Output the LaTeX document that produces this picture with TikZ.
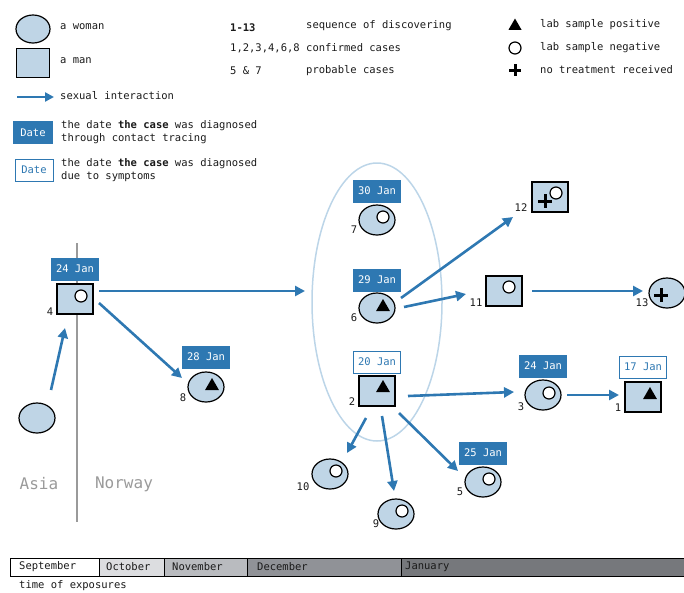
\documentclass[tikz,border=0pt]{standalone}
\usepackage{fontspec}
\setmainfont{DejaVu Sans Mono}
\usetikzlibrary{shapes.geometric, arrows.meta, calc}

\definecolor{caseblue}{HTML}{2E78B2}
\definecolor{bodyfill}{HTML}{BFD5E6}
\definecolor{ringblue}{HTML}{BCD5E8}
\definecolor{borderline}{HTML}{9A9A9A}
\definecolor{monthoct}{HTML}{DCDDE0}
\definecolor{monthnov}{HTML}{B9BBBF}
\definecolor{monthdec}{HTML}{909297}
\definecolor{monthjan}{HTML}{76787C}
\definecolor{inktext}{HTML}{1A1A1A}

\tikzset{
  woman/.style={ellipse, draw=black, line width=1.2pt, fill=bodyfill,
    minimum width=36pt, minimum height=30pt, inner sep=0pt},
  man/.style={rectangle, draw=black, line width=1.2pt, fill=bodyfill,
    minimum width=36pt, minimum height=30pt, inner sep=0pt},
  datefill/.style={rectangle, fill=caseblue, text=white,
    minimum width=48pt, minimum height=23pt, inner sep=0pt},
  dateline/.style={rectangle, draw=caseblue, line width=1pt, fill=white, text=caseblue,
    minimum width=47pt, minimum height=22pt, inner sep=0pt},
  rel/.style={draw=caseblue, line width=2.6pt, -{Triangle[length=10pt,width=10pt]}},
  posmark/.style={regular polygon, regular polygon sides=3, fill=black,
    minimum size=16pt, inner sep=0pt},
  negmark/.style={circle, draw=black, line width=1.2pt, fill=white,
    minimum size=12pt, inner sep=0pt},
  plusmark/.style={draw=black, line width=3pt},
  numlab/.style={inner sep=0pt, text=inktext},
  legtext/.style={anchor=west, inner sep=0pt, text=inktext, align=left},
  region/.style={inner sep=0pt, text=borderline, font=\fontsize{16}{19}\selectfont},
  month/.style={anchor=west, inner sep=0pt, text=inktext},
}

\begin{document}
\begin{tikzpicture}[x=1pt, y=-1pt, font=\fontsize{10.5}{13}\selectfont]
\useasboundingbox (0,0) rectangle (684,592);

% ---------- legend: symbols ----------
\node[woman, minimum width=34pt, minimum height=28pt] (lw) at (33,29) {};
\node[legtext] (lwt) at (60,27) {a woman};
\node[man, minimum width=33pt, minimum height=29pt] (lm) at (33,63) {};
\node[legtext] (lmt) at (60,61) {a man};
\coordinate (la0) at (17,97);
\coordinate (la1) at (54,97);
\draw[rel, -{Triangle[length=9pt,width=9pt]}] (la0) -- (la1);
\node[legtext] (lat) at (60,96) {sexual interaction};
\node[datefill, minimum width=40pt] (ld1) at (33,132.5) {Date};
\node[legtext] (ld1t) at (61,132.5) {the date \textbf{the case} was diagnosed\\through contact tracing};
\node[dateline, minimum width=38pt] (ld2) at (34,170) {Date};
\node[legtext] (ld2t) at (61,170) {the date \textbf{the case} was diagnosed\\due to symptoms};

% ---------- legend: numbering ----------
\node[legtext] (k1) at (230,28) {\textbf{1-13}};
\node[legtext] (k1t) at (306,26) {sequence of discovering};
\node[legtext] (k2) at (230,48) {1,2,3,4,6,8};
\node[legtext] (k2t) at (306,48) {confirmed cases};
\node[legtext] (k3) at (230,71) {5 \& 7};
\node[legtext] (k3t) at (306,71) {probable cases};

% ---------- legend: lab results ----------
\node[posmark, minimum size=15pt] (kp) at (515,26) {};
\node[legtext] (kpt) at (540,25) {lab sample positive};
\node[negmark] (kn) at (515,48) {};
\node[legtext] (knt) at (540,48) {lab sample negative};
\draw[plusmark] (515,70) +(-6,0) -- +(6,0) +(0,-6) -- +(0,6);
\node[legtext] (kxt) at (540,70) {no treatment received};

% ---------- Asia / Norway border ----------
\draw[borderline, line width=2.5pt] (77,243) -- (77,522);
\node[region] (asia) at (39,484) {Asia};
\node[region] (norway) at (124,484) {Norway};

% ---------- household cluster ----------
\node[ellipse, draw=ringblue, line width=1.5pt, minimum width=130pt,
  minimum height=278pt, inner sep=0pt] (grp) at (377,302) {};

% ---------- cases ----------
\node[woman] (wa) at (37,418) {};

\node[man] (m4) at (75,299) {};
\node[negmark] at ($(m4)+(6,-3)$) {};
\node[numlab] at (50,312) {4};
\node[datefill] at (75,269) {24 Jan};

\node[woman] (w8) at (206,387) {};
\node[posmark] at ($(w8)+(6,-1)$) {};
\node[numlab] at (183,398) {8};
\node[datefill] at (206,357) {28 Jan};

\node[woman] (w7) at (377,220) {};
\node[negmark] at ($(w7)+(6,-3)$) {};
\node[numlab] at (354,230) {7};
\node[datefill] at (377,191) {30 Jan};

\node[woman] (w6) at (377,308) {};
\node[posmark] at ($(w6)+(6,-1)$) {};
\node[numlab] at (354,318) {6};
\node[datefill] at (377,280) {29 Jan};

\node[man] (m2) at (377,391) {};
\node[posmark] at ($(m2)+(6,-3)$) {};
\node[numlab] at (352,402) {2};
\node[dateline] at (377,362) {20 Jan};

\node[man] (m12) at (550,197) {};
\node[negmark] at ($(m12)+(6,-4)$) {};
\draw[plusmark] ($(m12)+(-5,4)$) +(-7,0) -- +(7,0) +(0,-7) -- +(0,7);
\node[numlab] at (521,208) {12};

\node[man] (m11) at (504,291) {};
\node[negmark] at ($(m11)+(5,-4)$) {};
\node[numlab] at (476,303) {11};

\node[woman] (w13) at (667,293) {};
\draw[plusmark] ($(w13)+(-6,2)$) +(-7,0) -- +(7,0) +(0,-7) -- +(0,7);
\node[numlab] at (642,303) {13};

\node[woman] (w3) at (543,395) {};
\node[negmark] at ($(w3)+(6,-2)$) {};
\node[numlab] at (521,407) {3};
\node[datefill] at (543,366) {24 Jan};

\node[man] (m1) at (643,397) {};
\node[posmark] at ($(m1)+(7,-2)$) {};
\node[numlab] at (618,408) {1};
\node[dateline] at (643,367) {17 Jan};

\node[woman] (w10) at (330,474) {};
\node[negmark] at ($(w10)+(6,-3)$) {};
\node[numlab] at (303,487) {10};

\node[woman] (w9) at (396,514) {};
\node[negmark] at ($(w9)+(6,-3)$) {};
\node[numlab] at (376,524) {9};

\node[woman] (w5) at (483,482) {};
\node[negmark] at ($(w5)+(6,-3)$) {};
\node[numlab] at (460,492) {5};
\node[datefill] at (483,453) {25 Jan};

% ---------- transmission arrows ----------
\draw[rel] ($(wa)+(14,-28)$) -- ($(m4)+(-10,29)$);
\draw[rel] ($(m4)+(24,-8)$) -- ($(grp)+(-72,-11)$);
\draw[rel] ($(m4)+(24,4)$) -- ($(w8)+(-24,-9)$);
\draw[rel] ($(w6)+(24,-10)$) -- ($(m12)+(-37,20)$);
\draw[rel] ($(w6)+(27,-1)$) -- ($(m11)+(-38,3)$);
\draw[rel] ($(m11)+(28,0)$) -- ($(w13)+(-24,-2)$);
\draw[rel] ($(m2)+(31,5)$) -- ($(w3)+(-29,-3)$);
\draw[rel] ($(w3)+(24,0)$) -- ($(m1)+(-24,-2)$);
\draw[rel] ($(m2)+(-11,27)$) -- ($(w10)+(17,-21)$);
\draw[rel] ($(m2)+(5,25)$) -- ($(w9)+(-2,-23)$);
\draw[rel] ($(m2)+(22,22)$) -- ($(w5)+(-25,-11)$);

% ---------- timeline of exposures ----------
\filldraw[fill=white, draw=black, line width=1pt] (10,558) rectangle (99,576);
\filldraw[fill=monthoct, draw=black, line width=1pt] (99,558) rectangle (164,576);
\filldraw[fill=monthnov, draw=black, line width=1pt] (164,558) rectangle (247,576);
\filldraw[fill=monthdec, draw=black, line width=1pt] (247,558) rectangle (401,576);
\filldraw[fill=monthjan, draw=black, line width=1pt] (401,558) rectangle (690,576);
\node[month] (sep) at (19,567) {September};
\node[month] (oct) at (106,567) {October};
\node[month] (nov) at (172,567) {November};
\node[month] (dec) at (257,567) {December};
\node[month] (jan) at (405,567) {January};
\node[month] (expo) at (19,586) {time of exposures};
\end{tikzpicture}
\end{document}
